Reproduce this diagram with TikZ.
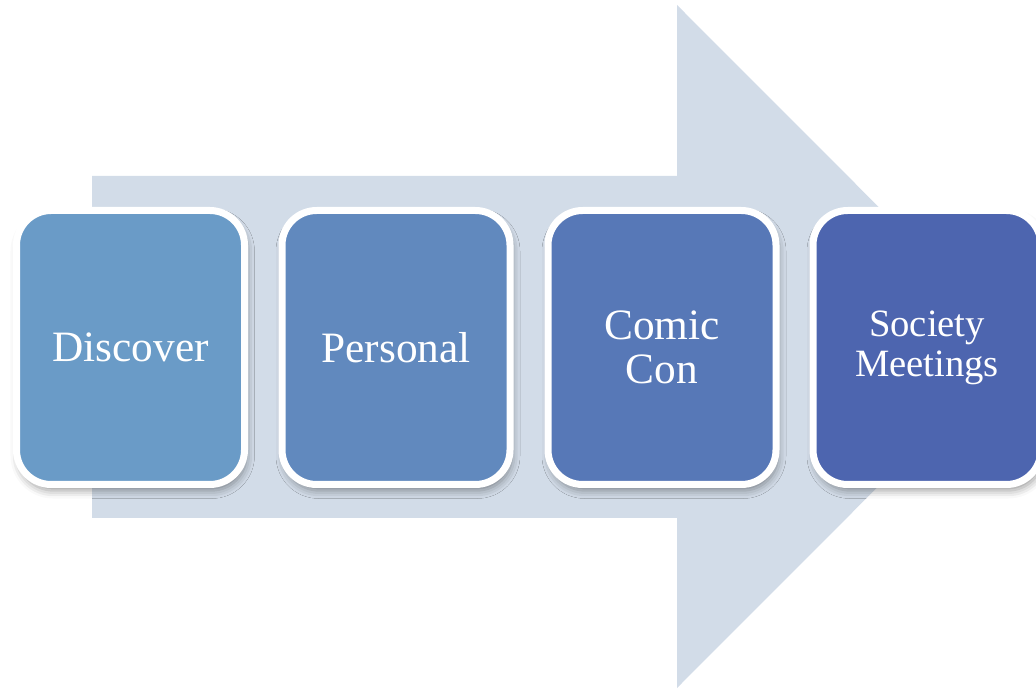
\documentclass[tikz,border=0pt]{standalone}
\usepackage{fontspec}
\setmainfont{Liberation Serif}
\usetikzlibrary{shadows.blur}
\definecolor{arrowfill}{RGB}{210,220,232}
\definecolor{stepA}{RGB}{106,155,199}
\definecolor{stepB}{RGB}{97,137,190}
\definecolor{stepC}{RGB}{87,120,183}
\definecolor{stepD}{RGB}{77,101,175}
\tikzset{
  stagebox/.style={
    draw=white, line width=5.25pt, rounded corners=26pt,
    minimum width=171pt, minimum height=205.5pt,
    text=white, align=center, inner sep=0pt,
    blur shadow={shadow xshift=1.5pt, shadow yshift=-4.5pt,
                 shadow blur radius=6pt, shadow opacity=40}
  },
  bigtext/.style={font=\fontsize{32.5}{33.5}\selectfont},
  smalltext/.style={font=\fontsize{29}{30}\selectfont}
}
\begin{document}
\begin{tikzpicture}[x=0.75pt, y=-0.75pt]
  \useasboundingbox (0,0) rectangle (1036,691);
  % broad background arrow
  \fill[arrowfill] (92,176) -- (677,176) -- (677,5) -- (1018,346.5)
    -- (677,688) -- (677,518) -- (92,518) -- cycle;
  % stages
  \node[stagebox, fill=stepA, bigtext] (discover) at (130.5,347.5) {Discover};
  \node[stagebox, fill=stepB, bigtext] (personal) at (396,347.5) {Personal};
  \node[stagebox, fill=stepC, bigtext] (comic) at (662,347.5) {Comic\\Con};
  \node[stagebox, fill=stepD, smalltext] (society) at (927,347.5) {Society\\Meetings};
\end{tikzpicture}
\end{document}
